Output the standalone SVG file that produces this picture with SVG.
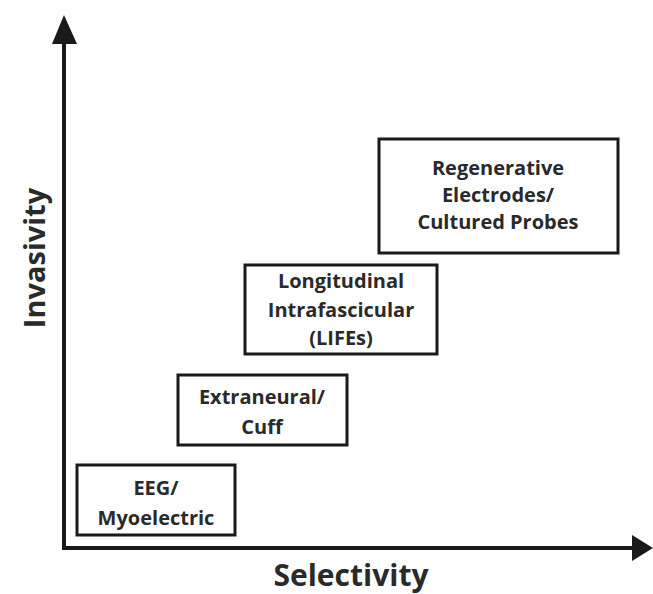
<svg xmlns="http://www.w3.org/2000/svg" width="653" height="594" viewBox="0 0 653 594">
  <style>
    .box { fill: #ffffff; stroke: #1a1a1a; stroke-width: 3; }
    .lbl { font-family: "Open Sans", "Liberation Sans", sans-serif; font-weight: 700; font-size: 20px; fill: #2a2a2a; text-anchor: middle; }
    .axis-lbl { font-family: "Open Sans", "Liberation Sans", sans-serif; font-weight: 700; font-size: 29px; fill: #2a2a2a; text-anchor: middle; }
    .axis { stroke: #1a1a1a; stroke-width: 4; fill: none; }
  </style>
  <rect width="653" height="594" fill="#ffffff"/>

  <g id="axes">
    <line class="axis" x1="64" y1="548" x2="64" y2="40"/>
    <line class="axis" x1="62" y1="548" x2="636" y2="548"/>
    <polygon points="64,15 52,44 77,44" fill="#1a1a1a"/>
    <polygon points="653,548 632,535 632,561" fill="#1a1a1a"/>
    <text class="axis-lbl" transform="translate(45,258) rotate(-90)">Invasivity</text>
    <text class="axis-lbl" x="351" y="586" style="font-size:30px">Selectivity</text>
  </g>

  <g id="node-eeg">
    <rect class="box" x="77" y="465" width="158" height="70"/>
    <text class="lbl" x="156" y="495">EEG/</text>
    <text class="lbl" x="156" y="525">Myoelectric</text>
  </g>

  <g id="node-extraneural">
    <rect class="box" x="178" y="375" width="169" height="70"/>
    <text class="lbl" x="262" y="404">Extraneural/</text>
    <text class="lbl" x="262" y="434">Cuff</text>
  </g>

  <g id="node-lifes">
    <rect class="box" x="245" y="265" width="192" height="89"/>
    <text class="lbl" x="341" y="288">Longitudinal</text>
    <text class="lbl" x="341" y="317">Intrafascicular</text>
    <text class="lbl" x="341" y="345">(LIFEs)</text>
  </g>

  <g id="node-regenerative">
    <rect class="box" x="379" y="139" width="239" height="114"/>
    <text class="lbl" x="498" y="175">Regenerative</text>
    <text class="lbl" x="498" y="202">Electrodes/</text>
    <text class="lbl" x="498" y="229">Cultured Probes</text>
  </g>
</svg>
